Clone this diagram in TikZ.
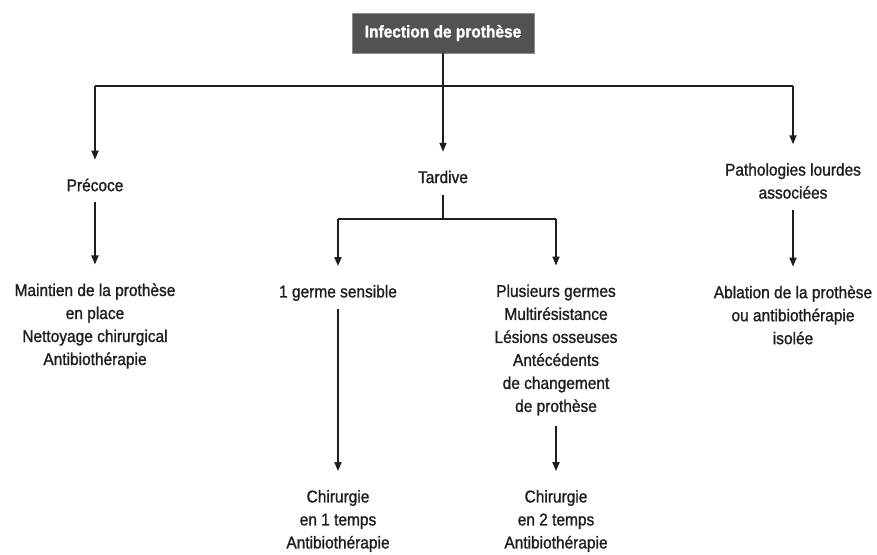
\documentclass[tikz,border=0pt]{standalone}
\usepackage{fontspec}
\setmainfont[FakeStretch=0.91,FakeBold=1.2]{Liberation Sans}
\usetikzlibrary{arrows.meta}
\definecolor{ink}{HTML}{1E1E1E}
\begin{document}
\begin{tikzpicture}[x=1pt,y=-1pt,
  txt/.style={inner sep=0pt,outer sep=0pt,align=center,text=ink,
    font=\fontsize{17}{23}\selectfont},
  topbox/.style={fill=black!68,draw=black!45,line width=0.8pt,text=white,
    minimum width=182pt,minimum height=40pt,inner sep=0pt,
    font=\fontsize{17}{23}\selectfont\bfseries},
  ln/.style={draw=ink,line width=1.7pt},
  arr/.style={ln,-{Triangle[length=9pt,width=7pt]},shorten >=19pt},
  fromnode/.style={shorten <=11pt}]
\useasboundingbox (0,0) rectangle (877,554);
\fill[white] (0,0) rectangle (877,554);

\node[topbox] (top) at (443,33) {Infection de prothèse};

\node[txt] (precoce) at (95,185) {Précoce};
\node[txt] (tardive) at (443,177) {Tardive};
\node[txt] (patho) at (793,181) {Pathologies lourdes\\associées};

\node[txt] (maintien) at (95,326) {Maintien de la prothèse\\en place\\Nettoyage chirurgical\\Antibiothérapie};
\node[txt] (germe) at (338,293) {1 germe sensible};
\node[txt] (plusieurs) at (556,350) {Plusieurs germes\\Multirésistance\\Lésions osseuses\\Antécédents\\de changement\\de prothèse};
\node[txt] (ablation) at (793,315) {Ablation de la prothèse\\ou antibiothérapie\\isolée};

\node[txt] (chir1) at (338,521) {Chirurgie\\en 1 temps\\Antibiothérapie};
\node[txt] (chir2) at (556,521) {Chirurgie\\en 2 temps\\Antibiothérapie};

\coordinate (hl) at (95,86);
\coordinate (hr) at (793,86);
\coordinate (tl) at (338,219);
\coordinate (tr) at (556,219);

\draw[ln] (top.south) -- (top.south |- hl);
\draw[ln] (hl) -- (hr);
\draw[arr] (hl) -- (precoce.north);
\draw[arr] (top.south |- hl) -- (tardive.north);
\draw[arr] (hr) -- (patho.north);

\draw[arr,fromnode] (precoce.south) -- (maintien.north);
\draw[arr,fromnode] (patho.south) -- (ablation.north);

\draw[ln,shorten <=12pt] (tardive.south) -- (tardive.south |- tl);
\draw[ln] (tl) -- (tr);
\draw[arr] (tl) -- (germe.north);
\draw[arr] (tr) -- (plusieurs.north);

\draw[arr,shorten <=8pt] (germe.south) -- (chir1.north);
\draw[arr,fromnode] (plusieurs.south) -- (chir2.north);
\end{tikzpicture}
\end{document}
